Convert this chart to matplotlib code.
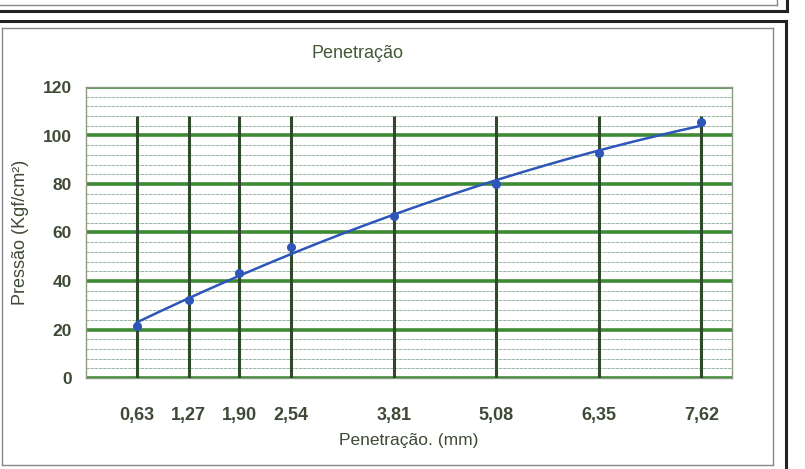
import numpy as np
import matplotlib
matplotlib.use("Agg")
import matplotlib.pyplot as plt
from matplotlib.lines import Line2D

plt.rcParams['font.family'] = ['Liberation Sans', 'DejaVu Sans']

# dados do ensaio
penetracao = [0.63, 1.27, 1.90, 2.54, 3.81, 5.08, 6.35, 7.62]
pressao = [21.6, 32.2, 43.3, 54.0, 67.0, 79.8, 92.6, 105.4]
rotulos_x = ["0,63", "1,27", "1,90", "2,54", "3,81", "5,08", "6,35", "7,62"]
ticks_y = [0, 20, 40, 60, 80, 100, 120]

txt = "#3e4a36"
verde = "#3f8a35"
verde_esc = "#2f4a2a"

fig = plt.figure(figsize=(8.05, 4.69), dpi=100)
W, H = 805, 469

def linha(x0, y0, x1, y1, cor, lw):
    fig.add_artist(Line2D([x0 / W, x1 / W], [1 - y0 / H, 1 - y1 / H],
                          transform=fig.transFigure, color=cor, lw=lw))

# molduras (caixa de cima e caixa do grafico)
linha(0, 5, 777, 5, "#888888", 1.0)
linha(777, 0, 777, 5, "#888888", 1.0)
linha(0, 11, 787, 11, "#222222", 2.2)
linha(787, 0, 787, 11, "#222222", 2.2)
linha(0, 21, 786, 21, "#222222", 2.2)
linha(786, 21, 786, 469, "#222222", 2.2)
linha(2, 28, 773, 28, "#888888", 1.0)
linha(773, 28, 773, 465, "#888888", 1.0)
linha(2, 465, 773, 465, "#888888", 1.0)
linha(2, 28, 2, 465, "#888888", 1.0)

ax = fig.add_axes([86 / W, 1 - 378 / H, (732 - 86) / W, (378 - 87) / H])
ax.set_xlim(0, 8)
ax.set_ylim(0, 120)

# grade menor a cada 4
for v in np.arange(4, 120, 4):
    if v % 20:
        ax.axhline(v, color="#88ad94", lw=0.6, ls=(0, (4, 1)), zorder=1)
for v in ticks_y:
    ax.axhline(v, color=verde, lw=2.6, zorder=2)
ax.vlines(penetracao, 0, 108, color=verde_esc, lw=2.2, zorder=3)

# linha de tendencia
coef = np.polyfit(penetracao, pressao, 2)
xx = np.linspace(penetracao[0], penetracao[-1], 200)
ax.plot(xx, np.polyval(coef, xx), color="#2e56b8", lw=1.8, zorder=4)
ax.plot(penetracao, pressao, "o", color="#2e56b8", ms=5.5, zorder=5)

ax.set_xticks(penetracao)
ax.set_xticklabels(rotulos_x)
ax.set_yticks(ticks_y)
ax.tick_params(length=0, labelcolor=txt)
ax.tick_params(axis="x", pad=21, labelsize=13)
ax.tick_params(axis="y", pad=10, labelsize=12.5)
for t in ax.get_xticklabels() + ax.get_yticklabels():
    t.set_fontweight("bold")
for s in ax.spines.values():
    s.set_color("#8a9a85")
    s.set_linewidth(1.0)

ax.set_ylabel("Pressão (Kgf/cm²)", fontsize=13, color=txt, labelpad=10)
ax.set_xlabel("Penetração. (mm)", fontsize=12.5, color=txt, labelpad=6)
fig.text(357 / W, 1 - 53 / H, "Penetração", ha="center", va="center",
         fontsize=13, color="#3f5a35")

fig.savefig("out.png", dpi=100, facecolor="white")
